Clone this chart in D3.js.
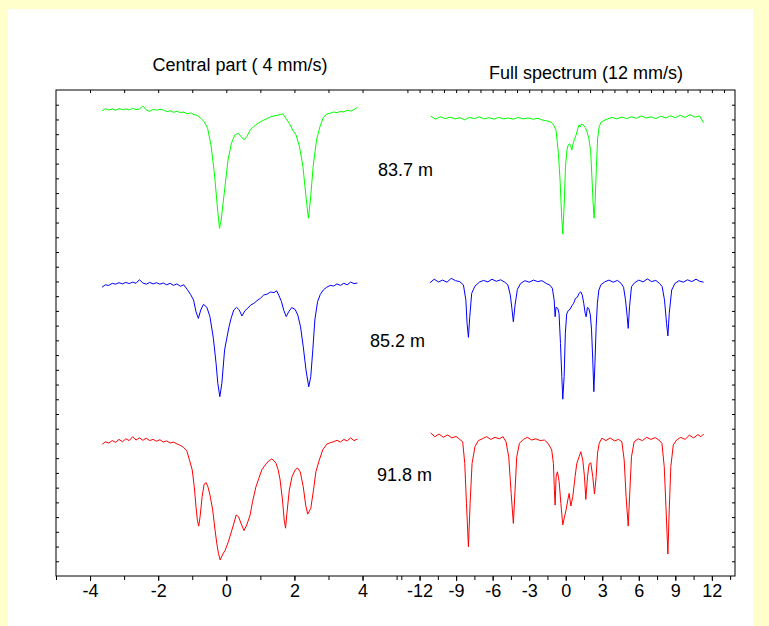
<!DOCTYPE html>
<html><head><meta charset="utf-8">
<script src="https://cdn.jsdelivr.net/npm/d3@7/dist/d3.min.js"></script>
<style>body{margin:0;background:#ffffcc}text{font-family:"Liberation Sans",Arial,sans-serif}</style>
</head><body>
<script>
// ---- data (velocity mm/s, relative transmission %) ----
const depths = ["83.7 m", "85.2 m", "91.8 m"];
const panelTitles = ["Central part ( 4 mm/s)", "Full spectrum (12 mm/s)"];
const centralTicks = [-4, -2, 0, 2, 4];
const fullTicks = [-12, -9, -6, -3, 0, 3, 6, 9, 12];

const central_837 = [[-3.65,99.4],[-3.55,100.1],[-3.45,99.7],[-3.35,100.0],[-3.25,99.6],[-3.15,100.1],[-3.05,99.8],[-2.95,100.0],[-2.85,99.7],[-2.75,100.2],[-2.65,99.8],[-2.55,100.0],[-2.45,101.0],[-2.35,99.7],[-2.25,99.2],[-2.15,99.9],[-2.05,99.6],[-1.95,99.9],[-1.85,99.7],[-1.75,99.1],[-1.65,99.4],[-1.55,98.9],[-1.45,99.2],[-1.35,98.8],[-1.25,99.0],[-1.15,98.4],[-1.05,98.7],[-0.95,98.1],[-0.85,97.9],[-0.75,96.9],[-0.65,95.8],[-0.55,93.6],[-0.45,88.0],[-0.35,78.6],[-0.25,65.8],[-0.2,60.2],[-0.15,63.0],[-0.05,73.0],[0.05,83.0],[0.15,88.6],[0.25,91.3],[0.35,91.9],[0.45,90.6],[0.52,89.7],[0.6,90.8],[0.7,93.0],[0.8,94.1],[0.9,95.0],[1.0,95.7],[1.1,96.3],[1.2,96.8],[1.3,97.4],[1.4,97.7],[1.5,97.9],[1.6,98.2],[1.66,98.4],[1.75,96.9],[1.85,95.2],[1.95,93.0],[2.05,91.3],[2.15,87.4],[2.25,80.8],[2.35,69.7],[2.41,63.6],[2.47,69.7],[2.55,80.8],[2.65,89.7],[2.75,94.1],[2.85,97.2],[2.95,98.3],[3.05,98.6],[3.15,99.0],[3.25,98.8],[3.35,99.2],[3.45,99.0],[3.55,99.6],[3.65,99.3],[3.75,99.8],[3.85,100.6]];

const full_837 = [[-11.1,100.7],[-10.7,99.6],[-10.3,100.4],[-9.9,99.8],[-9.5,100.3],[-9.1,99.7],[-8.7,100.1],[-8.3,99.4],[-7.9,100.2],[-7.5,99.8],[-7.1,100.4],[-6.7,99.7],[-6.3,100.1],[-5.9,99.6],[-5.5,100.2],[-5.1,99.7],[-4.7,100.0],[-4.3,99.6],[-3.9,100.2],[-3.5,99.7],[-3.1,100.0],[-2.7,99.6],[-2.3,99.9],[-1.9,99.3],[-1.5,99.0],[-1.2,98.6],[-1.0,97.7],[-0.8,96.0],[-0.6,88.2],[-0.45,78.2],[-0.35,68.4],[-0.24,61.3],[-0.12,71.6],[-0.02,83.8],[0.1,89.3],[0.2,91.0],[0.3,91.4],[0.42,90.7],[0.5,89.3],[0.6,91.3],[0.7,92.7],[0.85,94.3],[1.0,96.6],[1.1,97.7],[1.2,97.1],[1.3,98.0],[1.45,97.6],[1.6,96.9],[1.75,95.4],[1.9,93.2],[2.05,88.8],[2.15,80.4],[2.25,71.6],[2.33,66.6],[2.42,72.7],[2.52,83.8],[2.62,93.2],[2.75,97.1],[2.9,98.6],[3.1,99.1],[3.4,99.6],[3.8,100.2],[4.2,99.7],[4.6,100.3],[5.0,99.8],[5.4,100.4],[5.8,99.9],[6.2,100.7],[6.6,100.0],[7.0,100.4],[7.4,99.8],[7.8,100.6],[8.2,100.0],[8.6,100.7],[9.0,100.1],[9.4,100.9],[9.8,100.2],[10.2,101.1],[10.6,100.3],[11.0,100.7],[11.32,98.4]];

const central_852 = [[-3.65,98.6],[-3.55,99.4],[-3.45,99.2],[-3.35,99.9],[-3.25,99.6],[-3.15,100.1],[-3.05,99.7],[-2.95,100.2],[-2.85,99.8],[-2.75,100.3],[-2.65,99.9],[-2.55,101.1],[-2.45,100.0],[-2.35,99.6],[-2.25,100.2],[-2.15,99.7],[-2.05,100.1],[-1.95,99.6],[-1.85,100.0],[-1.75,99.4],[-1.65,99.9],[-1.55,99.2],[-1.45,99.7],[-1.35,98.9],[-1.25,99.4],[-1.15,97.9],[-1.05,96.2],[-0.96,94.3],[-0.89,90.4],[-0.82,88.2],[-0.75,91.0],[-0.67,92.9],[-0.57,91.9],[-0.48,88.8],[-0.38,81.6],[-0.3,73.2],[-0.25,66.6],[-0.19,62.1],[-0.13,66.6],[-0.05,77.7],[0.01,81.3],[0.08,85.4],[0.14,88.2],[0.22,91.0],[0.3,91.9],[0.38,91.0],[0.46,89.0],[0.55,90.8],[0.63,91.6],[0.72,92.7],[0.81,93.2],[0.9,94.1],[1.0,94.9],[1.1,96.0],[1.2,96.3],[1.3,97.0],[1.4,96.8],[1.48,97.4],[1.55,95.7],[1.62,93.8],[1.69,90.8],[1.76,88.8],[1.83,90.4],[1.92,91.8],[2.02,91.2],[2.1,89.3],[2.18,85.4],[2.26,78.7],[2.34,71.0],[2.42,65.4],[2.48,68.8],[2.54,77.7],[2.6,87.7],[2.68,93.8],[2.76,96.2],[2.85,97.7],[2.95,98.6],[3.05,99.2],[3.15,99.0],[3.25,99.7],[3.35,99.2],[3.45,99.9],[3.55,99.4],[3.65,100.3],[3.75,99.8],[3.85,100.0]];

const full_852 = [[-11.15,99.4],[-10.8,100.6],[-10.45,99.7],[-10.1,100.3],[-9.75,99.6],[-9.4,100.9],[-9.05,100.1],[-8.7,99.8],[-8.4,98.7],[-8.2,93.7],[-8.1,85.9],[-7.99,81.2],[-7.88,88.1],[-7.72,95.9],[-7.45,98.3],[-7.1,99.6],[-6.75,100.2],[-6.4,99.7],[-6.05,100.6],[-5.7,99.9],[-5.35,100.4],[-5.0,99.6],[-4.75,98.7],[-4.55,95.3],[-4.42,90.9],[-4.3,86.4],[-4.16,92.0],[-3.97,97.2],[-3.7,99.2],[-3.35,100.1],[-3.0,99.6],[-2.65,100.3],[-2.3,99.8],[-1.95,100.1],[-1.6,99.2],[-1.3,98.6],[-1.1,97.6],[-0.95,93.7],[-0.87,88.1],[-0.8,91.2],[-0.65,90.9],[-0.55,89.2],[-0.43,79.2],[-0.32,68.1],[-0.24,60.6],[-0.13,68.1],[-0.03,82.6],[0.08,89.0],[0.2,90.1],[0.36,90.6],[0.5,91.7],[0.65,92.6],[0.8,94.2],[0.95,94.6],[1.1,95.9],[1.24,96.4],[1.36,95.3],[1.48,92.6],[1.6,89.2],[1.68,88.1],[1.78,91.2],[1.9,90.8],[2.02,88.7],[2.12,83.7],[2.22,73.7],[2.31,63.1],[2.4,72.6],[2.5,84.8],[2.6,92.6],[2.72,97.0],[2.9,98.8],[3.2,99.7],[3.55,100.3],[3.9,99.6],[4.25,100.2],[4.55,99.2],[4.75,97.9],[4.91,93.7],[5.05,88.1],[5.13,84.2],[5.24,91.4],[5.4,98.1],[5.65,99.4],[6.0,100.3],[6.35,99.7],[6.7,100.7],[7.05,99.8],[7.4,100.2],[7.7,99.2],[7.92,98.1],[8.11,93.7],[8.28,85.9],[8.39,81.7],[8.5,89.2],[8.7,97.0],[8.97,99.2],[9.3,100.1],[9.65,99.6],[10.0,100.4],[10.35,99.8],[10.7,100.6],[11.0,99.9],[11.32,99.6]];

const central_918 = [[-3.64,98.6],[-3.55,99.4],[-3.45,99.0],[-3.35,99.8],[-3.25,99.2],[-3.15,100.2],[-3.05,99.4],[-2.95,100.4],[-2.85,99.8],[-2.75,101.1],[-2.65,100.0],[-2.55,100.7],[-2.45,99.9],[-2.35,100.6],[-2.25,99.8],[-2.15,100.2],[-2.05,99.6],[-1.95,100.1],[-1.85,99.3],[-1.75,99.7],[-1.65,99.0],[-1.55,99.3],[-1.45,98.7],[-1.35,98.2],[-1.26,97.6],[-1.16,96.4],[-1.08,93.3],[-1.0,90.0],[-0.94,84.4],[-0.89,77.8],[-0.85,73.3],[-0.81,71.3],[-0.77,74.4],[-0.71,81.1],[-0.65,85.3],[-0.59,85.8],[-0.54,84.4],[-0.48,81.7],[-0.4,76.7],[-0.33,70.0],[-0.28,65.6],[-0.23,62.2],[-0.18,60.0],[-0.1,62.0],[-0.03,63.3],[0.06,66.1],[0.13,68.7],[0.21,71.7],[0.29,75.0],[0.36,74.4],[0.44,72.0],[0.52,69.8],[0.6,71.7],[0.7,75.0],[0.77,79.4],[0.87,84.4],[0.94,86.7],[1.04,90.0],[1.12,91.3],[1.19,92.4],[1.26,93.1],[1.33,93.7],[1.4,93.1],[1.46,92.2],[1.52,90.2],[1.58,86.7],[1.65,80.0],[1.7,73.3],[1.74,70.6],[1.78,75.6],[1.85,83.3],[1.93,87.8],[2.02,90.0],[2.09,90.7],[2.17,89.4],[2.26,84.4],[2.33,78.3],[2.39,75.3],[2.48,77.2],[2.56,83.3],[2.63,89.4],[2.73,93.3],[2.83,96.7],[2.95,98.6],[3.05,99.1],[3.15,99.4],[3.25,99.9],[3.35,99.3],[3.45,100.2],[3.55,99.7],[3.65,100.7],[3.75,99.8],[3.85,100.3]];

const full_918 = [[-11.09,101.4],[-10.75,100.1],[-10.4,101.0],[-10.05,99.9],[-9.7,100.7],[-9.35,99.7],[-9.0,100.2],[-8.7,99.2],[-8.46,98.4],[-8.29,91.2],[-8.15,77.9],[-7.99,63.4],[-7.85,77.9],[-7.69,91.2],[-7.45,96.8],[-7.17,98.8],[-6.85,99.4],[-6.5,100.1],[-6.15,99.2],[-5.8,99.9],[-5.45,99.4],[-5.15,100.1],[-4.9,98.4],[-4.68,93.4],[-4.48,81.2],[-4.3,71.2],[-4.16,82.3],[-4.02,93.4],[-3.8,97.9],[-3.48,99.2],[-3.15,99.9],[-2.8,99.0],[-2.45,99.4],[-2.1,98.8],[-1.75,99.0],[-1.45,97.9],[-1.15,95.7],[-1.01,91.2],[-0.93,82.3],[-0.87,77.3],[-0.79,86.8],[-0.68,88.4],[-0.54,85.1],[-0.4,77.9],[-0.24,70.7],[-0.1,73.4],[0.03,75.7],[0.17,79.0],[0.28,81.2],[0.42,77.0],[0.58,80.1],[0.77,86.8],[0.91,91.2],[1.1,93.4],[1.24,95.1],[1.4,92.3],[1.54,86.8],[1.65,79.2],[1.79,86.8],[1.92,91.0],[2.06,91.4],[2.22,86.8],[2.36,81.0],[2.5,86.8],[2.61,94.6],[2.75,97.9],[2.97,99.6],[3.3,98.8],[3.65,99.7],[4.0,98.7],[4.35,99.2],[4.61,98.4],[4.8,92.3],[4.96,80.1],[5.13,70.3],[5.27,82.3],[5.4,93.4],[5.62,98.4],[5.95,99.4],[6.3,98.8],[6.65,99.9],[7.0,99.2],[7.35,99.8],[7.65,99.0],[7.9,97.9],[8.09,90.1],[8.23,76.8],[8.39,61.0],[8.5,75.7],[8.63,90.1],[8.83,97.3],[9.1,99.0],[9.45,99.9],[9.8,99.2],[10.15,100.6],[10.5,99.7],[10.85,100.8],[11.1,100.1],[11.32,101.0]];

const centralSeries = [central_837, central_852, central_918];
const fullSeries = [full_837, full_852, full_918];

// ---- layout / style ----
const W = 769, H = 626;
const colors = ["#00ff00", "#0000ff", "#ff0000"];
const frame = {x0: 56, x1: 735, y0: 90, y1: 576};
const baseLeft = [109, 283, 440], baseRight = [118, 281, 437];
const labelPos = [[378, 170], [370, 341], [377, 475]];

const svg = d3.select("body").append("svg").attr("width", W).attr("height", H);
svg.append("rect").attr("width", W).attr("height", H).attr("fill", "#ffffcc");
svg.append("rect").attr("x", 8).attr("y", 9).attr("width", 745).attr("height", H - 9).attr("fill", "#ffffff");

const xL = d3.scaleLinear().domain([-5, 5]).range([frame.x0, 396.6]);
const xR = d3.scaleLinear().domain([-13.55, 13.9]).range([400.7, frame.x1]);
const makeY = base => d3.scaleLinear().domain([60, 100]).range([base + 120, base]);

// spectra
const drawSpec = (data, x, y, color) => {
  svg.append("path").datum(data)
    .attr("fill", "none").attr("stroke", color).attr("stroke-width", 1)
    .attr("stroke-linejoin", "round")
    .attr("d", d3.line().x(d => x(d[0])).y(d => y(d[1])));
};
centralSeries.forEach((s, i) => drawSpec(s, xL, makeY(baseLeft[i]), colors[i]));
fullSeries.forEach((s, i) => drawSpec(s, xR, makeY(baseRight[i]), colors[i]));

// frame
svg.append("rect").attr("x", frame.x0).attr("y", frame.y0)
  .attr("width", frame.x1 - frame.x0).attr("height", frame.y1 - frame.y0)
  .attr("fill", "none").attr("stroke", "#000").attr("stroke-width", 1);

const styleAxis = g => {
  g.select(".domain").remove();
  g.selectAll(".tick line").attr("stroke", "#000");
  g.selectAll(".tick text").attr("fill", "#000")
    .style("font-family", '"Liberation Sans", Arial, sans-serif').style("font-size", "18px");
};
const fmt = d => String(d);

// bottom axes
svg.append("g").attr("transform", `translate(0,${frame.y1})`)
  .call(d3.axisBottom(xL).tickValues(d3.range(-5, 6)).tickSize(4).tickFormat("")).call(styleAxis);
svg.append("g").attr("transform", `translate(0,${frame.y1})`)
  .call(d3.axisBottom(xL).tickValues(centralTicks).tickSize(5).tickPadding(3).tickFormat(fmt)).call(styleAxis);
svg.append("g").attr("transform", `translate(0,${frame.y1})`)
  .call(d3.axisBottom(xR).tickValues(d3.range(-13.5, 14, 1.5)).tickSize(4).tickFormat("")).call(styleAxis);
svg.append("g").attr("transform", `translate(0,${frame.y1})`)
  .call(d3.axisBottom(xR).tickValues(fullTicks).tickSize(5).tickPadding(3).tickFormat(fmt)).call(styleAxis);

// top inner ticks
svg.append("g").attr("transform", `translate(0,${frame.y0})`)
  .call(d3.axisBottom(xL).tickValues(d3.range(-4, 5)).tickSize(3).tickFormat("")).call(styleAxis);
svg.append("g").attr("transform", `translate(0,${frame.y0})`)
  .call(d3.axisBottom(xR).tickValues(d3.range(-13, 14)).tickSize(3).tickFormat("")).call(styleAxis);

// side inner ticks
const ySide = d3.scaleLinear().domain([0, 33]).range([frame.y1, frame.y0]);
svg.append("g").attr("transform", `translate(${frame.x0},0)`)
  .call(d3.axisRight(ySide).tickValues(d3.range(1, 33)).tickSize(3).tickFormat("")).call(styleAxis);
svg.append("g").attr("transform", `translate(${frame.x1},0)`)
  .call(d3.axisLeft(ySide).tickValues(d3.range(1, 33)).tickSize(3).tickFormat("")).call(styleAxis);

// titles
svg.append("text").attr("x", 240).attr("y", 71).attr("text-anchor", "middle")
  .style("font-size", "18px").text(panelTitles[0]);
svg.append("text").attr("x", 586).attr("y", 79).attr("text-anchor", "middle")
  .style("font-size", "18px").text(panelTitles[1]);

// depth labels
depths.forEach((d, i) => {
  svg.append("text").attr("x", labelPos[i][0]).attr("y", labelPos[i][1] + 6)
    .style("font-size", "18px").text(d);
});
</script>
</body></html>
